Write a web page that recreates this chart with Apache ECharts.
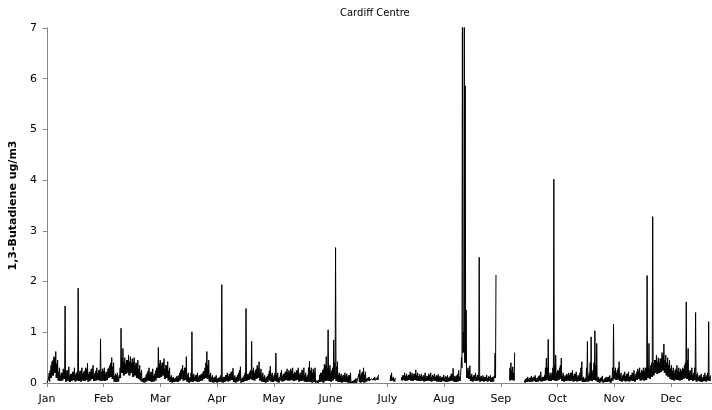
<!DOCTYPE html>
<html>
<head>
<meta charset="utf-8">
<script src="https://cdn.jsdelivr.net/npm/echarts@6/dist/echarts.min.js"></script>
<style>
  html, body { margin: 0; padding: 0; background: #ffffff; }
  #chart { width: 712px; height: 410px; }
</style>
</head>
<body>
<div id="chart"></div>
<script>
// Month labels, one per 730-hour step along the x axis
const monthLabels = ['Jan', 'Feb', 'Mar', 'Apr', 'May', 'June', 'July', 'Aug', 'Sep', 'Oct', 'Nov', 'Dec'];

// Highest hourly 1,3-butadiene (ug/m3) in the second half of each day, day 0 = 1 Jan; null = no data
const pmHigh = [
  0.06, 0.25, 0.42, 0.52, 0.62, 0.45, 0.3, 0.2, 0.28, 1.52,
  0.25, 0.32, 0.18, 0.22, 0.3, 0.2, 1.87, 0.24, 0.3, 0.22,
  0.3, 0.39, 0.22, 0.28, 0.35, 0.2, 0.3, 0.25, 0.87, 0.28,
  0.3, 0.22, 0.28, 0.35, 0.5, 0.4, 0.18, 0.2, 0.15, 1.08,
  0.68, 0.5, 0.45, 0.55, 0.52, 0.48, 0.5, 0.4, 0.45, 0.35,
  0.25, 0.1, 0.12, 0.2, 0.3, 0.22, 0.28, 0.18, 0.3, 0.7,
  0.45, 0.4, 0.48, 0.35, 0.42, 0.3, 0.15, 0.12, 0.1, 0.14,
  0.15, 0.25, 0.35, 0.3, 0.52, 0.2, 0.12, 1.01, 0.18, 0.15,
  0.2, 0.15, 0.18, 0.22, 0.3, 0.62, 0.45, 0.2, 0.15, 0.12,
  0.15, 0.1, 0.12, 1.94, 0.12, 0.15, 0.2, 0.18, 0.22, 0.29,
  0.15, 0.12, 0.2, 0.32, 0.1, 0.15, 1.47, 0.18, 0.22, 0.82,
  0.3, 0.25, 0.35, 0.42, 0.28, 0.2, 0.15, 0.12, 0.18, 0.33,
  0.2, 0.15, 0.59, 0.2, 0.12, 0.25, 0.18, 0.22, 0.28, 0.25,
  0.28, 0.3, 0.22, 0.25, 0.3, 0.2, 0.26, 0.3, 0.2, 0.15,
  0.43, 0.3, 0.28, 0.3, 0.05, 0.06, 0.2, 0.25, 0.37, 0.52,
  1.05, 0.35, 0.25, 0.85, 2.67, 0.42, 0.2, 0.18, 0.15, 0.2,
  0.18, 0.15, 0.2, 0.04, 0.06, 0.09, 0.03, 0.26, 0.2, 0.3,
  0.22, 0.1, 0.12, 0.08, 0.1, 0.12, 0.1, 0.16, null, null,
  null, null, null, null, 0.2, 0.12, 0.1, null, null, null,
  0.15, 0.2, 0.18, 0.16, 0.22, 0.2, 0.18, 0.26, 0.2, 0.17,
  0.18, 0.15, 0.2, 0.14, 0.18, 0.2, 0.16, 0.18, 0.15, 0.17,
  0.14, 0.12, 0.16, 0.13, 0.15, 0.12, 0.18, 0.29, 0.14, 0.15,
  0.25, 0.15, 8.0, 8.0, 1.44, 0.3, 0.34, 0.18, 0.15, 0.2,
  0.16, 2.48, 0.14, 0.15, 0.12, 0.16, 0.13, 0.15, 0.12, 0.14,
  2.13, null, null, null, null, null, null, null, 0.4, 0.32,
  0.6, null, null, null, null, null, 0.08, 0.12, 0.1, 0.14,
  0.12, 0.15, 0.1, 0.14, 0.22, 0.12, 0.15, 0.49, 0.86, 0.2,
  0.2, 4.02, 0.55, 0.25, 0.3, 0.49, 0.2, 0.15, 0.18, 0.2,
  0.2, 0.25, 0.18, 0.22, 0.15, 0.2, 0.42, 0.12, 0.1, 0.82,
  0.2, 0.91, 0.25, 1.03, 0.78, 0.12, 0.1, 0.14, 0.08, 0.12,
  0.12, 0.15, 0.1, 1.16, 0.3, 0.25, 0.42, 0.2, 0.15, 0.22,
  0.18, 0.22, 0.15, 0.2, 0.25, 0.18, 0.28, 0.3, 0.25, 0.3,
  0.3, 2.12, 0.78, 0.35, 3.28, 0.45, 0.55, 0.5, 0.48, 0.6,
  0.77, 0.55, 0.5, 0.45, 0.35, 0.3, 0.25, 0.35, 0.3, 0.28,
  0.3, 0.35, 1.6, 0.68, 0.25, 0.3, 0.2, 1.39, 0.2, 0.15,
  0.18, 0.12, 0.2, 0.15, 1.21, 0.15
];

// Highest hourly value in the first half of each day (ug/m3)
const amHigh = [
  0.04, 0.2, 0.35, 0.45, 0.5, 0.38, 0.22, 0.15, 0.2, 0.25,
  0.2, 0.25, 0.15, 0.18, 0.22, 0.16, 0.22, 0.2, 0.24, 0.18,
  0.24, 0.28, 0.18, 0.22, 0.28, 0.16, 0.24, 0.2, 0.25, 0.22,
  0.24, 0.18, 0.22, 0.3, 0.4, 0.32, 0.14, 0.15, 0.12, 0.3,
  0.5, 0.42, 0.38, 0.45, 0.42, 0.4, 0.42, 0.35, 0.38, 0.28,
  0.2, 0.08, 0.1, 0.16, 0.24, 0.18, 0.22, 0.14, 0.24, 0.3,
  0.38, 0.34, 0.4, 0.28, 0.35, 0.24, 0.12, 0.1, 0.08, 0.11,
  0.12, 0.2, 0.28, 0.24, 0.3, 0.16, 0.1, 0.2, 0.15, 0.12,
  0.16, 0.12, 0.15, 0.18, 0.24, 0.4, 0.35, 0.16, 0.12, 0.1,
  0.12, 0.08, 0.1, 0.15, 0.1, 0.12, 0.16, 0.14, 0.18, 0.22,
  0.12, 0.1, 0.16, 0.25, 0.08, 0.12, 0.2, 0.15, 0.18, 0.25,
  0.24, 0.2, 0.28, 0.3, 0.22, 0.16, 0.12, 0.1, 0.14, 0.24,
  0.16, 0.12, 0.2, 0.16, 0.1, 0.2, 0.14, 0.18, 0.22, 0.2,
  0.22, 0.24, 0.18, 0.2, 0.24, 0.16, 0.2, 0.24, 0.16, 0.12,
  0.3, 0.24, 0.2, 0.22, 0.03, 0.04, 0.16, 0.2, 0.28, 0.35,
  0.3, 0.28, 0.2, 0.3, 0.4, 0.32, 0.16, 0.14, 0.12, 0.16,
  0.14, 0.12, 0.15, 0.03, 0.04, 0.07, 0.02, 0.18, 0.15, 0.22,
  0.16, 0.08, 0.1, 0.07, 0.08, 0.1, 0.08, 0.12, null, null,
  null, null, null, null, 0.15, 0.1, 0.08, null, null, null,
  0.12, 0.15, 0.14, 0.13, 0.16, 0.15, 0.14, 0.18, 0.15, 0.13,
  0.14, 0.12, 0.15, 0.11, 0.14, 0.15, 0.12, 0.14, 0.12, 0.13,
  0.11, 0.1, 0.12, 0.1, 0.12, 0.1, 0.14, 0.18, 0.11, 0.12,
  0.18, 0.12, 0.5, 1.01, 5.86, 0.25, 0.25, 0.14, 0.12, 0.15,
  0.12, 0.15, 0.11, 0.12, 0.1, 0.12, 0.1, 0.12, 0.1, 0.11,
  0.59, null, null, null, null, null, null, null, 0.3, 0.25,
  0.2, null, null, null, null, null, 0.06, 0.1, 0.08, 0.11,
  0.1, 0.12, 0.08, 0.11, 0.15, 0.1, 0.12, 0.3, 0.3, 0.15,
  0.15, 0.3, 0.35, 0.2, 0.24, 0.35, 0.15, 0.12, 0.14, 0.15,
  0.15, 0.2, 0.14, 0.18, 0.12, 0.15, 0.3, 0.1, 0.08, 0.3,
  0.15, 0.4, 0.2, 0.4, 0.35, 0.1, 0.08, 0.11, 0.06, 0.1,
  0.1, 0.12, 0.08, 0.3, 0.24, 0.2, 0.3, 0.16, 0.12, 0.18,
  0.14, 0.18, 0.12, 0.16, 0.2, 0.14, 0.22, 0.24, 0.2, 0.24,
  0.24, 0.3, 0.3, 0.28, 0.4, 0.38, 0.45, 0.42, 0.4, 0.48,
  0.55, 0.45, 0.4, 0.36, 0.28, 0.24, 0.2, 0.28, 0.24, 0.22,
  0.24, 0.28, 0.4, 0.45, 0.2, 0.24, 0.16, 0.3, 0.16, 0.12,
  0.14, 0.1, 0.16, 0.12, 0.2, 0.12
];

// Lowest hourly value of each day (ug/m3); null = no data
const dailyLow = [
  0.01, 0.03, 0.1, 0.15, 0.2, 0.1, 0.05, 0.04, 0.05, 0.08,
  0.03, 0.05, 0.02, 0.04, 0.06, 0.03, 0.05, 0.04, 0.03, 0.05,
  0.04, 0.06, 0.03, 0.05, 0.08, 0.04, 0.05, 0.06, 0.05, 0.04,
  0.05, 0.04, 0.06, 0.1, 0.12, 0.08, 0.03, 0.02, 0.03, 0.1,
  0.2, 0.15, 0.18, 0.2, 0.15, 0.2, 0.12, 0.15, 0.1, 0.08,
  0.05, 0.02, 0.01, 0.03, 0.05, 0.04, 0.02, 0.03, 0.05, 0.1,
  0.1, 0.12, 0.15, 0.08, 0.1, 0.05, 0.02, 0.01, 0.02, 0.03,
  0.02, 0.05, 0.08, 0.05, 0.06, 0.03, 0.01, 0.03, 0.02, 0.04,
  0.03, 0.02, 0.04, 0.05, 0.08, 0.1, 0.08, 0.03, 0.02, 0.01,
  0.02, 0.01, 0.02, 0.03, 0.01, 0.02, 0.04, 0.03, 0.05, 0.06,
  0.02, 0.01, 0.03, 0.05, 0.01, 0.02, 0.04, 0.05, 0.06, 0.08,
  0.06, 0.05, 0.08, 0.1, 0.05, 0.03, 0.02, 0.01, 0.02, 0.05,
  0.03, 0.02, 0.04, 0.03, 0.01, 0.05, 0.03, 0.04, 0.06, 0.05,
  0.05, 0.06, 0.04, 0.05, 0.06, 0.03, 0.04, 0.05, 0.03, 0.02,
  0.03, 0.02, 0.01, 0.02, 0.0, 0.0, 0.02, 0.03, 0.01, 0.04,
  0.05, 0.04, 0.03, 0.05, 0.08, 0.04, 0.02, 0.02, 0.01, 0.03,
  0.02, 0.01, 0.0, 0.0, 0.0, 0.01, 0.0, 0.02, 0.01, 0.02,
  0.01, 0.03, 0.05, 0.04, 0.05, 0.06, 0.05, 0.06, null, null,
  null, null, null, null, 0.04, 0.05, 0.03, null, null, null,
  0.05, 0.06, 0.04, 0.05, 0.06, 0.05, 0.04, 0.06, 0.05, 0.04,
  0.04, 0.05, 0.03, 0.04, 0.05, 0.04, 0.03, 0.05, 0.04, 0.03,
  0.03, 0.02, 0.04, 0.03, 0.02, 0.03, 0.04, 0.05, 0.03, 0.02,
  0.03, 0.04, 0.3, 0.6, 0.4, 0.1, 0.08, 0.04, 0.03, 0.05,
  0.04, 0.05, 0.03, 0.04, 0.03, 0.04, 0.03, 0.04, 0.02, 0.03,
  0.1, null, null, null, null, null, null, null, 0.05, 0.06,
  0.05, null, null, null, null, null, 0.01, 0.02, 0.03, 0.02,
  0.03, 0.04, 0.02, 0.03, 0.04, 0.03, 0.04, 0.05, 0.06, 0.04,
  0.04, 0.06, 0.05, 0.04, 0.06, 0.08, 0.04, 0.03, 0.04, 0.05,
  0.04, 0.05, 0.03, 0.04, 0.03, 0.04, 0.05, 0.02, 0.02, 0.03,
  0.03, 0.05, 0.04, 0.06, 0.05, 0.02, 0.01, 0.03, 0.01, 0.02,
  0.02, 0.03, 0.01, 0.05, 0.08, 0.06, 0.07, 0.04, 0.03, 0.05,
  0.03, 0.04, 0.03, 0.05, 0.04, 0.03, 0.06, 0.08, 0.05, 0.06,
  0.05, 0.06, 0.1, 0.08, 0.12, 0.15, 0.2, 0.18, 0.2, 0.22,
  0.25, 0.2, 0.15, 0.12, 0.08, 0.06, 0.05, 0.07, 0.06, 0.05,
  0.06, 0.08, 0.1, 0.08, 0.05, 0.06, 0.04, 0.06, 0.03, 0.04,
  0.03, 0.02, 0.04, 0.03, 0.05, 0.04
];

// Hour-of-year series: dip, morning high, dip, afternoon/evening high
const val = v => (v === null ? '-' : v);
const points = [];
for (let d = 0; d < pmHigh.length; d++) {
  const h = d * 24;
  points.push([h, val(dailyLow[d])]);
  points.push([h + 6, val(amHigh[d])]);
  points.push([h + 12, val(dailyLow[d])]);
  points.push([h + 18, val(pmHigh[d])]);
}

const HOURS_PER_TICK = 730;
const X_END = 8557;
const axisGrey = '#868686';
const font = '"DejaVu Sans", Verdana, sans-serif';

const chart = echarts.init(document.getElementById('chart'), null, { renderer: 'canvas' });
chart.setOption({
  animation: false,
  backgroundColor: '#ffffff',
  title: {
    text: 'Cardiff Centre',
    left: 340,
    top: 8,
    padding: 0,
    textStyle: { fontFamily: font, fontSize: 10, fontWeight: 'normal', color: '#000000' }
  },
  grid: { left: 45, right: 0, top: 28, bottom: 27, containLabel: false },
  xAxis: [
    {
      type: 'value',
      min: 0,
      max: X_END,
      interval: HOURS_PER_TICK,
      axisLine: { show: true, onZero: false, lineStyle: { color: axisGrey, width: 1 } },
      axisTick: { show: true, inside: false, length: 4, lineStyle: { color: axisGrey } },
      axisLabel: {
        margin: 11,
        fontFamily: font,
        fontSize: 11,
        color: '#000000',
        showMaxLabel: false,
        formatter: v => monthLabels[Math.round(v / HOURS_PER_TICK)] || ''
      },
      splitLine: { show: false }
    },
    {
      type: 'value',
      position: 'top',
      min: 0,
      max: X_END,
      axisLine: { show: true, lineStyle: { color: axisGrey, width: 1 } },
      axisTick: { show: false },
      axisLabel: { show: false },
      splitLine: { show: false }
    }
  ],
  yAxis: {
    type: 'value',
    min: 0,
    max: 7,
    interval: 1,
    name: '1,3-Butadiene ug/m3',
    nameLocation: 'middle',
    nameGap: 26,
    nameRotate: 90,
    nameTextStyle: { fontFamily: font, fontSize: 11, fontWeight: 'bold', color: '#000000' },
    axisLine: { show: true, lineStyle: { color: axisGrey, width: 1 } },
    axisTick: { show: true, length: 4, lineStyle: { color: axisGrey } },
    axisLabel: { margin: 10, fontFamily: font, fontSize: 11, color: '#000000' },
    splitLine: { show: false }
  },
  series: [
    {
      type: 'line',
      xAxisIndex: 0,
      data: points,
      showSymbol: false,
      symbol: 'none',
      connectNulls: false,
      sampling: null,
      clip: true,
      lineStyle: { color: '#000000', width: 1 },
      emphasis: { disabled: true }
    }
  ]
});
</script>
</body>
</html>
